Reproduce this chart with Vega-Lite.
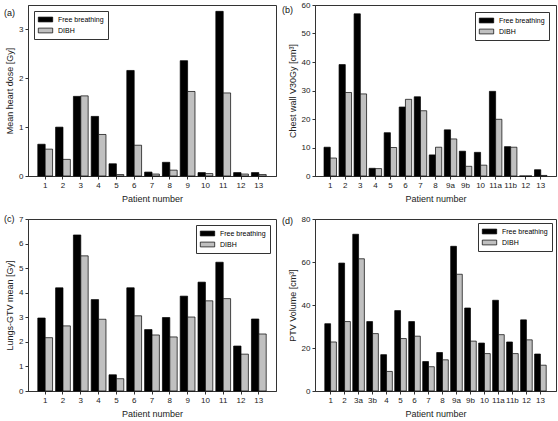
{
"$schema": "https://vega.github.io/schema/vega-lite/v6.json",
"background": "white",
"padding": {"left": 3, "top": 0, "right": 4, "bottom": 2},
"config": {
  "font": "Liberation Sans",
  "view": {"stroke": "#333", "strokeWidth": 1},
  "axis": {"grid": false, "labelFont": "Liberation Sans", "titleFont": "Liberation Sans", "labelFontSize": 8, "titleFontSize": 9, "titleFontWeight": "normal", "tickSize": 3, "domainColor": "#333", "tickColor": "#333", "labelColor": "#222", "titleColor": "#222", "labelPadding": 2},
  "axisX": {"labelAngle": 0, "titlePadding": 5},
  "axisY": {"titlePadding": 4},
  "legend": {"title": null, "labelFont": "Liberation Sans", "labelFontSize": 7, "labelColor": "black", "strokeColor": "#333", "fillColor": "white", "padding": 4, "rowPadding": 2, "symbolType": "M-1.8,-0.6H1.8V0.6H-1.8Z", "symbolSize": 64, "symbolStrokeColor": "black", "symbolStrokeWidth": 0.7, "symbolOffset": 3, "labelOffset": 8},
  "title": {"font": "Liberation Sans", "fontSize": 9, "fontWeight": "normal", "color": "#111", "anchor": "start", "frame": "group", "baseline": "top"}
},
"datasets": {
  "a": [
    {"patient": "1", "series": "Free breathing", "value": 0.65}, {"patient": "1", "series": "DIBH", "value": 0.55},
    {"patient": "2", "series": "Free breathing", "value": 1.0}, {"patient": "2", "series": "DIBH", "value": 0.34},
    {"patient": "3", "series": "Free breathing", "value": 1.63}, {"patient": "3", "series": "DIBH", "value": 1.64},
    {"patient": "4", "series": "Free breathing", "value": 1.22}, {"patient": "4", "series": "DIBH", "value": 0.85},
    {"patient": "5", "series": "Free breathing", "value": 0.25}, {"patient": "5", "series": "DIBH", "value": 0.03},
    {"patient": "6", "series": "Free breathing", "value": 2.16}, {"patient": "6", "series": "DIBH", "value": 0.63},
    {"patient": "7", "series": "Free breathing", "value": 0.08}, {"patient": "7", "series": "DIBH", "value": 0.04},
    {"patient": "8", "series": "Free breathing", "value": 0.28}, {"patient": "8", "series": "DIBH", "value": 0.12},
    {"patient": "9", "series": "Free breathing", "value": 2.36}, {"patient": "9", "series": "DIBH", "value": 1.73},
    {"patient": "10", "series": "Free breathing", "value": 0.07}, {"patient": "10", "series": "DIBH", "value": 0.05},
    {"patient": "11", "series": "Free breathing", "value": 3.37}, {"patient": "11", "series": "DIBH", "value": 1.7},
    {"patient": "12", "series": "Free breathing", "value": 0.07}, {"patient": "12", "series": "DIBH", "value": 0.04},
    {"patient": "13", "series": "Free breathing", "value": 0.07}, {"patient": "13", "series": "DIBH", "value": 0.03}
  ],
  "b": [
    {"patient": "1", "series": "Free breathing", "value": 10.1}, {"patient": "1", "series": "DIBH", "value": 6.3},
    {"patient": "2", "series": "Free breathing", "value": 39.1}, {"patient": "2", "series": "DIBH", "value": 29.3},
    {"patient": "3", "series": "Free breathing", "value": 56.9}, {"patient": "3", "series": "DIBH", "value": 28.8},
    {"patient": "4", "series": "Free breathing", "value": 2.7}, {"patient": "4", "series": "DIBH", "value": 2.6},
    {"patient": "5", "series": "Free breathing", "value": 15.2}, {"patient": "5", "series": "DIBH", "value": 10.0},
    {"patient": "6", "series": "Free breathing", "value": 24.2}, {"patient": "6", "series": "DIBH", "value": 26.9},
    {"patient": "7", "series": "Free breathing", "value": 27.8}, {"patient": "7", "series": "DIBH", "value": 22.9},
    {"patient": "8", "series": "Free breathing", "value": 7.4}, {"patient": "8", "series": "DIBH", "value": 10.1},
    {"patient": "9a", "series": "Free breathing", "value": 16.2}, {"patient": "9a", "series": "DIBH", "value": 13.0},
    {"patient": "9b", "series": "Free breathing", "value": 8.7}, {"patient": "9b", "series": "DIBH", "value": 3.4},
    {"patient": "10", "series": "Free breathing", "value": 8.3}, {"patient": "10", "series": "DIBH", "value": 3.8},
    {"patient": "11a", "series": "Free breathing", "value": 29.7}, {"patient": "11a", "series": "DIBH", "value": 19.9},
    {"patient": "11b", "series": "Free breathing", "value": 10.3}, {"patient": "11b", "series": "DIBH", "value": 10.1},
    {"patient": "12", "series": "Free breathing", "value": 0}, {"patient": "12", "series": "DIBH", "value": 0},
    {"patient": "13", "series": "Free breathing", "value": 2.2}, {"patient": "13", "series": "DIBH", "value": 0.2}
  ],
  "c": [
    {"patient": "1", "series": "Free breathing", "value": 2.97}, {"patient": "1", "series": "DIBH", "value": 2.17},
    {"patient": "2", "series": "Free breathing", "value": 4.2}, {"patient": "2", "series": "DIBH", "value": 2.65},
    {"patient": "3", "series": "Free breathing", "value": 6.35}, {"patient": "3", "series": "DIBH", "value": 5.5},
    {"patient": "4", "series": "Free breathing", "value": 3.72}, {"patient": "4", "series": "DIBH", "value": 2.92},
    {"patient": "5", "series": "Free breathing", "value": 0.66}, {"patient": "5", "series": "DIBH", "value": 0.5},
    {"patient": "6", "series": "Free breathing", "value": 4.2}, {"patient": "6", "series": "DIBH", "value": 3.06},
    {"patient": "7", "series": "Free breathing", "value": 2.5}, {"patient": "7", "series": "DIBH", "value": 2.28},
    {"patient": "8", "series": "Free breathing", "value": 2.99}, {"patient": "8", "series": "DIBH", "value": 2.2},
    {"patient": "9", "series": "Free breathing", "value": 3.86}, {"patient": "9", "series": "DIBH", "value": 3.01},
    {"patient": "10", "series": "Free breathing", "value": 4.43}, {"patient": "10", "series": "DIBH", "value": 3.67},
    {"patient": "11", "series": "Free breathing", "value": 5.24}, {"patient": "11", "series": "DIBH", "value": 3.76},
    {"patient": "12", "series": "Free breathing", "value": 1.83}, {"patient": "12", "series": "DIBH", "value": 1.5},
    {"patient": "13", "series": "Free breathing", "value": 2.93}, {"patient": "13", "series": "DIBH", "value": 2.32}
  ],
  "d": [
    {"patient": "1", "series": "Free breathing", "value": 31.3}, {"patient": "1", "series": "DIBH", "value": 22.8},
    {"patient": "2", "series": "Free breathing", "value": 59.5}, {"patient": "2", "series": "DIBH", "value": 32.3},
    {"patient": "3a", "series": "Free breathing", "value": 72.9}, {"patient": "3a", "series": "DIBH", "value": 61.5},
    {"patient": "3b", "series": "Free breathing", "value": 32.3}, {"patient": "3b", "series": "DIBH", "value": 26.7},
    {"patient": "4", "series": "Free breathing", "value": 16.9}, {"patient": "4", "series": "DIBH", "value": 9.1},
    {"patient": "5", "series": "Free breathing", "value": 37.4}, {"patient": "5", "series": "DIBH", "value": 24.4},
    {"patient": "6", "series": "Free breathing", "value": 32.3}, {"patient": "6", "series": "DIBH", "value": 25.5},
    {"patient": "7", "series": "Free breathing", "value": 13.7}, {"patient": "7", "series": "DIBH", "value": 11.3},
    {"patient": "8", "series": "Free breathing", "value": 17.9}, {"patient": "8", "series": "DIBH", "value": 14.5},
    {"patient": "9a", "series": "Free breathing", "value": 67.3}, {"patient": "9a", "series": "DIBH", "value": 54.3},
    {"patient": "9b", "series": "Free breathing", "value": 38.6}, {"patient": "9b", "series": "DIBH", "value": 23.2},
    {"patient": "10", "series": "Free breathing", "value": 22.3}, {"patient": "10", "series": "DIBH", "value": 17.4},
    {"patient": "11a", "series": "Free breathing", "value": 42.2}, {"patient": "11a", "series": "DIBH", "value": 26.2},
    {"patient": "11b", "series": "Free breathing", "value": 22.8}, {"patient": "11b", "series": "DIBH", "value": 17.4},
    {"patient": "12", "series": "Free breathing", "value": 33.1}, {"patient": "12", "series": "DIBH", "value": 23.8},
    {"patient": "13", "series": "Free breathing", "value": 17.2}, {"patient": "13", "series": "DIBH", "value": 12.0}
  ]
},
"bounds": "full",
"spacing": 10,
"resolve": {"scale": {"x": "independent", "y": "independent", "color": "independent", "xOffset": "independent"}, "legend": {"color": "independent"}},
"vconcat": [
  {
    "bounds": "flush",
    "spacing": 39,
    "resolve": {"scale": {"x": "independent", "y": "independent", "color": "independent", "xOffset": "independent"}, "legend": {"color": "independent"}},
    "hconcat": [
      {
        "width": 248, "height": 171,
        "title": {"text": "(a)", "dx": -24, "offset": -13},
        "data": {"name": "a"},
        "mark": {"type": "bar", "stroke": "black", "strokeWidth": 0.7},
        "encoding": {
          "x": {"field": "patient", "type": "nominal", "sort": null, "scale": {"paddingInner": 0.17, "paddingOuter": 0.55}, "axis": {"title": "Patient number"}},
          "xOffset": {"field": "series", "type": "nominal", "sort": ["Free breathing", "DIBH"], "scale": {"paddingInner": 0, "paddingOuter": 0}},
          "y": {"field": "value", "type": "quantitative", "scale": {"domain": [0, 3.5], "nice": false}, "axis": {"title": "Mean heart dose [Gy]", "values": [0, 1, 2, 3]}},
          "color": {"field": "series", "type": "nominal", "sort": ["Free breathing", "DIBH"], "scale": {"domain": ["Free breathing", "DIBH"], "range": ["black", "#c0c0c0"]}, "legend": {"orient": "top-left", "offset": 6}}
        }
      },
      {
        "width": 241, "height": 171,
        "title": {"text": "(b)", "dx": -33, "offset": -14},
        "data": {"name": "b"},
        "mark": {"type": "bar", "stroke": "black", "strokeWidth": 0.7},
        "encoding": {
          "x": {"field": "patient", "type": "nominal", "sort": null, "scale": {"paddingInner": 0.17, "paddingOuter": 0.6}, "axis": {"title": "Patient number"}},
          "xOffset": {"field": "series", "type": "nominal", "sort": ["Free breathing", "DIBH"], "scale": {"paddingInner": 0, "paddingOuter": 0}},
          "y": {"field": "value", "type": "quantitative", "scale": {"domain": [0, 60], "nice": false}, "axis": {"title": "Chest wall V30Gy [cm³]", "values": [0, 10, 20, 30, 40, 50, 60]}},
          "color": {"field": "series", "type": "nominal", "sort": ["Free breathing", "DIBH"], "scale": {"domain": ["Free breathing", "DIBH"], "range": ["black", "#c0c0c0"]}, "legend": {"orient": "top-right", "offset": 7}}
        }
      }
    ]
  },
  {
    "bounds": "flush",
    "spacing": 39,
    "resolve": {"scale": {"x": "independent", "y": "independent", "color": "independent", "xOffset": "independent"}, "legend": {"color": "independent"}},
    "hconcat": [
      {
        "width": 248, "height": 172,
        "title": {"text": "(c)", "dx": -24, "offset": -9},
        "data": {"name": "c"},
        "mark": {"type": "bar", "stroke": "black", "strokeWidth": 0.7},
        "encoding": {
          "x": {"field": "patient", "type": "nominal", "sort": null, "scale": {"paddingInner": 0.17, "paddingOuter": 0.55}, "axis": {"title": "Patient number"}},
          "xOffset": {"field": "series", "type": "nominal", "sort": ["Free breathing", "DIBH"], "scale": {"paddingInner": 0, "paddingOuter": 0}},
          "y": {"field": "value", "type": "quantitative", "scale": {"domain": [0, 7], "nice": false}, "axis": {"title": "Lungs-GTV mean [Gy]", "values": [0, 1, 2, 3, 4, 5, 6, 7]}},
          "color": {"field": "series", "type": "nominal", "sort": ["Free breathing", "DIBH"], "scale": {"domain": ["Free breathing", "DIBH"], "range": ["black", "#c0c0c0"]}, "legend": {"orient": "top-right", "offset": 6}}
        }
      },
      {
        "width": 241, "height": 172,
        "title": {"text": "(d)", "dx": -33, "offset": -11},
        "data": {"name": "d"},
        "mark": {"type": "bar", "stroke": "black", "strokeWidth": 0.7},
        "encoding": {
          "x": {"field": "patient", "type": "nominal", "sort": null, "scale": {"paddingInner": 0.17, "paddingOuter": 0.7}, "axis": {"title": "Patient number"}},
          "xOffset": {"field": "series", "type": "nominal", "sort": ["Free breathing", "DIBH"], "scale": {"paddingInner": 0, "paddingOuter": 0}},
          "y": {"field": "value", "type": "quantitative", "scale": {"domain": [0, 80], "nice": false}, "axis": {"title": "PTV Volume [cm³]", "values": [0, 20, 40, 60, 80]}},
          "color": {"field": "series", "type": "nominal", "sort": ["Free breathing", "DIBH"], "scale": {"domain": ["Free breathing", "DIBH"], "range": ["black", "#c0c0c0"]}, "legend": {"orient": "top-right", "offset": 4}}
        }
      }
    ]
  }
]
}
